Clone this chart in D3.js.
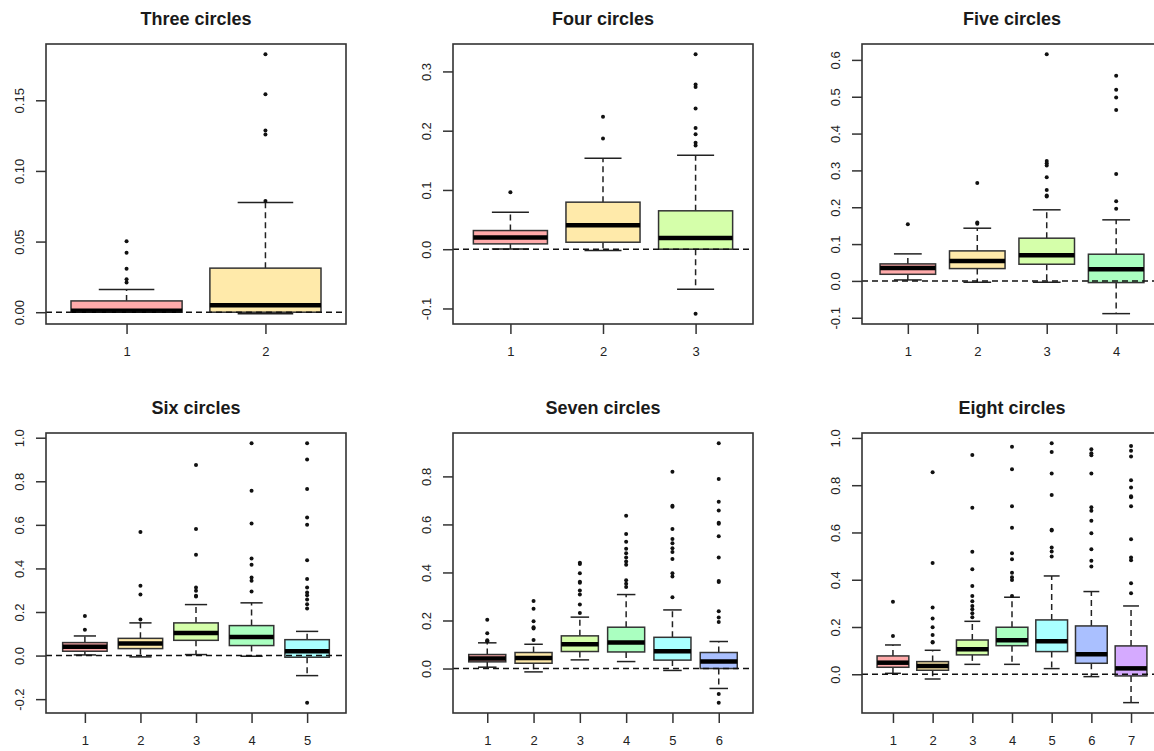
<!DOCTYPE html>
<html>
<head>
<meta charset="utf-8">
<script src="https://cdn.jsdelivr.net/npm/d3@7"></script>
<style>
  html, body { margin: 0; padding: 0; background: #fff; overflow: hidden; }
  svg { display: block; font-family: "Liberation Sans", Arial, sans-serif; }
</style>
</head>
<body>
<svg id="chart" width="1154" height="751"></svg>
<script>
// Panel titles and box fill colours (rainbow(8) at alpha 1/3 over white)
const titles = ["Three circles", "Four circles", "Five circles", "Six circles", "Seven circles", "Eight circles"];
const boxColors = ["#FFAAAA", "#FFEAAA", "#D5FFAA", "#AAFFC0", "#AAFFFF", "#AAC0FF", "#D5AAFF"];

// Five-number summaries per box: [lower whisker, Q1, median, Q3, upper whisker]
const threeStats = [[0, 0, 0.001, 0.008, 0.016], [-0.001, 0, 0.005, 0.0312, 0.0777]];
const threeOutliers = [[0.021, 0.0234, 0.0307, 0.0421, 0.0503], [0.0787, 0.1257, 0.1286, 0.1543, 0.1825]];
const threeTicks = ["0.00", "0.05", "0.10", "0.15"];

const fourStats = [[0.0005, 0.009, 0.0197, 0.0315, 0.0625], [-0.0023, 0.0118, 0.0405, 0.0794, 0.1537], [-0.0676, 0, 0.019, 0.0648, 0.1587]];
const fourOutliers = [[0.0963], [0.187, 0.2235], [-0.1087, 0.1751, 0.1796, 0.1942, 0.2044, 0.2376, 0.2736, 0.278, 0.3288]];
const fourTicks = ["-0.1", "0.0", "0.1", "0.2", "0.3"];

const fiveStats = [[0.0027, 0.018, 0.0353, 0.0462, 0.0734], [-0.0036, 0.0335, 0.0543, 0.0815, 0.1431], [-0.0036, 0.0453, 0.0698, 0.116, 0.193], [-0.0888, -0.0045, 0.0317, 0.0725, 0.1658]];
const fiveOutliers = [[0.154], [0.155, 0.1585, 0.266], [0.229, 0.232, 0.247, 0.2817, 0.3134, 0.3197, 0.3252, 0.615], [0.1957, 0.2165, 0.29, 0.4638, 0.498, 0.519, 0.557]];
const fiveTicks = ["-0.1", "0.0", "0.1", "0.2", "0.3", "0.4", "0.5", "0.6"];

const sixStats = [[0.003, 0.0199, 0.04, 0.0596, 0.09], [-0.006, 0.032, 0.055, 0.079, 0.15], [0.0046, 0.07, 0.104, 0.15, 0.234], [-0.003, 0.046, 0.0856, 0.1376, 0.242], [-0.092, -0.0076, 0.0199, 0.073, 0.111]];
const sixOutliers = [[0.118, 0.182], [0.165, 0.28, 0.321, 0.567], [0.271, 0.275, 0.298, 0.312, 0.463, 0.581, 0.875], [0.294, 0.343, 0.358, 0.417, 0.445, 0.606, 0.757, 0.974], [-0.216, 0.216, 0.235, 0.257, 0.277, 0.29, 0.313, 0.352, 0.437, 0.6, 0.634, 0.765, 0.9, 0.974]];
const sixTicks = ["-0.2", "0.0", "0.2", "0.4", "0.6", "0.8", "1.0"];

const sevenStats = [[0.0056, 0.0278, 0.042, 0.0583, 0.107], [-0.014, 0.022, 0.044, 0.0667, 0.101], [0.036, 0.0708, 0.101, 0.136, 0.214], [0.029, 0.069, 0.108, 0.172, 0.308], [-0.008, 0.035, 0.072, 0.13, 0.244], [-0.083, 0, 0.029, 0.0667, 0.1125]];
const sevenOutliers = [[0.114, 0.118, 0.147, 0.203], [0.119, 0.167, 0.172, 0.197, 0.249, 0.281], [0.231, 0.267, 0.308, 0.325, 0.357, 0.361, 0.397, 0.435, 0.44], [0.339, 0.353, 0.368, 0.432, 0.446, 0.4625, 0.48, 0.499, 0.528, 0.56, 0.636], [0.297, 0.383, 0.397, 0.456, 0.485, 0.501, 0.522, 0.539, 0.581, 0.674, 0.678, 0.819], [-0.142, -0.106, 0.194, 0.2125, 0.239, 0.36, 0.364, 0.4625, 0.551, 0.603, 0.607, 0.658, 0.694, 0.789, 0.9375]];
const sevenTicks = ["0.0", "0.2", "0.4", "0.6", "0.8"];

const eightStats = [[0.004, 0.0296, 0.049, 0.0776, 0.124], [-0.02, 0.017, 0.035, 0.0536, 0.1015], [0.042, 0.082, 0.106, 0.145, 0.224], [0.042, 0.121, 0.144, 0.199, 0.326], [0.024, 0.096, 0.14, 0.23, 0.416], [-0.01, 0.0465, 0.085, 0.2045, 0.35], [-0.12, -0.007, 0.025, 0.12, 0.289]];
const eightOutliers = [[0.162, 0.307], [0.134, 0.137, 0.166, 0.199, 0.236, 0.282, 0.471, 0.855], [0.241, 0.258, 0.275, 0.289, 0.309, 0.331, 0.374, 0.444, 0.518, 0.705, 0.928], [0.331, 0.399, 0.41, 0.43, 0.487, 0.512, 0.62, 0.711, 0.867, 0.963], [0.498, 0.519, 0.536, 0.608, 0.612, 0.759, 0.849, 0.941, 0.977], [0.456, 0.48, 0.529, 0.597, 0.65, 0.692, 0.707, 0.849, 0.927, 0.935, 0.952], [0.343, 0.385, 0.482, 0.494, 0.571, 0.711, 0.749, 0.753, 0.79, 0.821, 0.921, 0.946, 0.966]];
const eightTicks = ["0.0", "0.2", "0.4", "0.6", "0.8", "1.0"];

const panels = [
  { stats: threeStats, outliers: threeOutliers, ticks: threeTicks },
  { stats: fourStats, outliers: fourOutliers, ticks: fourTicks },
  { stats: fiveStats, outliers: fiveOutliers, ticks: fiveTicks },
  { stats: sixStats, outliers: sixOutliers, ticks: sixTicks },
  { stats: sevenStats, outliers: sevenOutliers, ticks: sevenTicks },
  { stats: eightStats, outliers: eightOutliers, ticks: eightTicks }
];

// Plot-region geometry: 2 rows x 3 columns
const colLeft = [46, 453, 862];
const rowTop = [44, 433];
const plotW = 300, plotH = 280;
const ink = "#222";
const frameColor = "#333";

const svg = d3.select("#chart");

panels.forEach((p, i) => {
  const left = colLeft[i % 3];
  const top = rowTop[Math.floor(i / 3)];
  const n = p.stats.length;
  const g = svg.append("g").attr("transform", `translate(${left},${top})`);

  // x: boxes at 1..n, range 0.5..n+0.5 extended by 4%
  const ext = 0.04 * n;
  const x = d3.scaleLinear().domain([0.5 - ext, n + 0.5 + ext]).range([0, plotW]);

  // y: data range extended by 4%
  const allVals = p.stats.flat().concat(p.outliers.flat());
  const lo = d3.min(allVals), hi = d3.max(allVals);
  const pad = 0.04 * (hi - lo);
  const y = d3.scaleLinear().domain([lo - pad, hi + pad]).range([plotH, 0]);

  const boxHalf = 0.4, capHalf = 0.2;
  const boxes = g.append("g");

  p.stats.forEach((s, j) => {
    const cx = x(j + 1);
    const [wLo, q1, med, q3, wHi] = s;
    const b = boxes.append("g");
    // whiskers (dashed) and staples
    b.append("line").attr("x1", cx).attr("x2", cx).attr("y1", y(q3)).attr("y2", y(wHi))
      .attr("stroke", ink).attr("stroke-width", 1.5).attr("stroke-dasharray", "6,4");
    b.append("line").attr("x1", cx).attr("x2", cx).attr("y1", y(q1)).attr("y2", y(wLo))
      .attr("stroke", ink).attr("stroke-width", 1.5).attr("stroke-dasharray", "6,4");
    [wLo, wHi].forEach(v => {
      b.append("line").attr("x1", x(j + 1 - capHalf)).attr("x2", x(j + 1 + capHalf))
        .attr("y1", y(v)).attr("y2", y(v)).attr("stroke", ink).attr("stroke-width", 1.5);
    });
    // box
    b.append("rect")
      .attr("x", x(j + 1 - boxHalf)).attr("width", x(j + 1 + boxHalf) - x(j + 1 - boxHalf))
      .attr("y", y(q3)).attr("height", Math.max(0.5, y(q1) - y(q3)))
      .attr("fill", boxColors[j]).attr("stroke", frameColor).attr("stroke-width", 1.5);
    // median
    b.append("line").attr("x1", x(j + 1 - boxHalf)).attr("x2", x(j + 1 + boxHalf))
      .attr("y1", y(med)).attr("y2", y(med)).attr("stroke", "#000").attr("stroke-width", 4.5);
    // outliers
    b.selectAll("circle").data(p.outliers[j]).join("circle")
      .attr("cx", cx).attr("cy", d => y(d)).attr("r", 2).attr("fill", "#111");
  });

  // reference line at zero
  g.append("line").attr("x1", 0).attr("x2", plotW).attr("y1", y(0)).attr("y2", y(0))
    .attr("stroke", "#111").attr("stroke-width", 1.5).attr("stroke-dasharray", "6,4");

  // frame
  g.append("rect").attr("x", 0).attr("y", 0).attr("width", plotW).attr("height", plotH)
    .attr("fill", "none").attr("stroke", frameColor).attr("stroke-width", 1.6);

  // y axis with rotated labels
  const yAxis = g.append("g").call(
    d3.axisLeft(y).tickValues(p.ticks.map(Number)).tickFormat((d, k) => p.ticks[k]).tickSize(10).tickSizeOuter(0)
  );
  yAxis.select(".domain").remove();
  yAxis.selectAll(".tick line").attr("stroke", frameColor).attr("stroke-width", 1.5);
  yAxis.selectAll(".tick text")
    .attr("transform", "rotate(-90)").attr("x", 0).attr("y", -22).attr("dy", 0)
    .attr("text-anchor", "middle").attr("fill", ink)
    .style("font-size", "13px").style("font-family", "'Liberation Sans', Arial, sans-serif");

  // x axis
  const xAxis = g.append("g").attr("transform", `translate(0,${plotH})`).call(
    d3.axisBottom(x).tickValues(d3.range(1, n + 1)).tickFormat(d3.format("d")).tickSize(10).tickSizeOuter(0)
  );
  xAxis.select(".domain").remove();
  xAxis.selectAll(".tick line").attr("stroke", frameColor).attr("stroke-width", 1.5);
  xAxis.selectAll(".tick text").attr("y", 32).attr("dy", 0).attr("fill", ink)
    .style("font-size", "13px").style("font-family", "'Liberation Sans', Arial, sans-serif");

  // title
  g.append("text").attr("x", plotW / 2).attr("y", -19).attr("text-anchor", "middle")
    .attr("fill", "#1a1a1a").style("font-size", "18px").style("font-weight", "bold")
    .text(titles[i]);
});
</script>
</body>
</html>
